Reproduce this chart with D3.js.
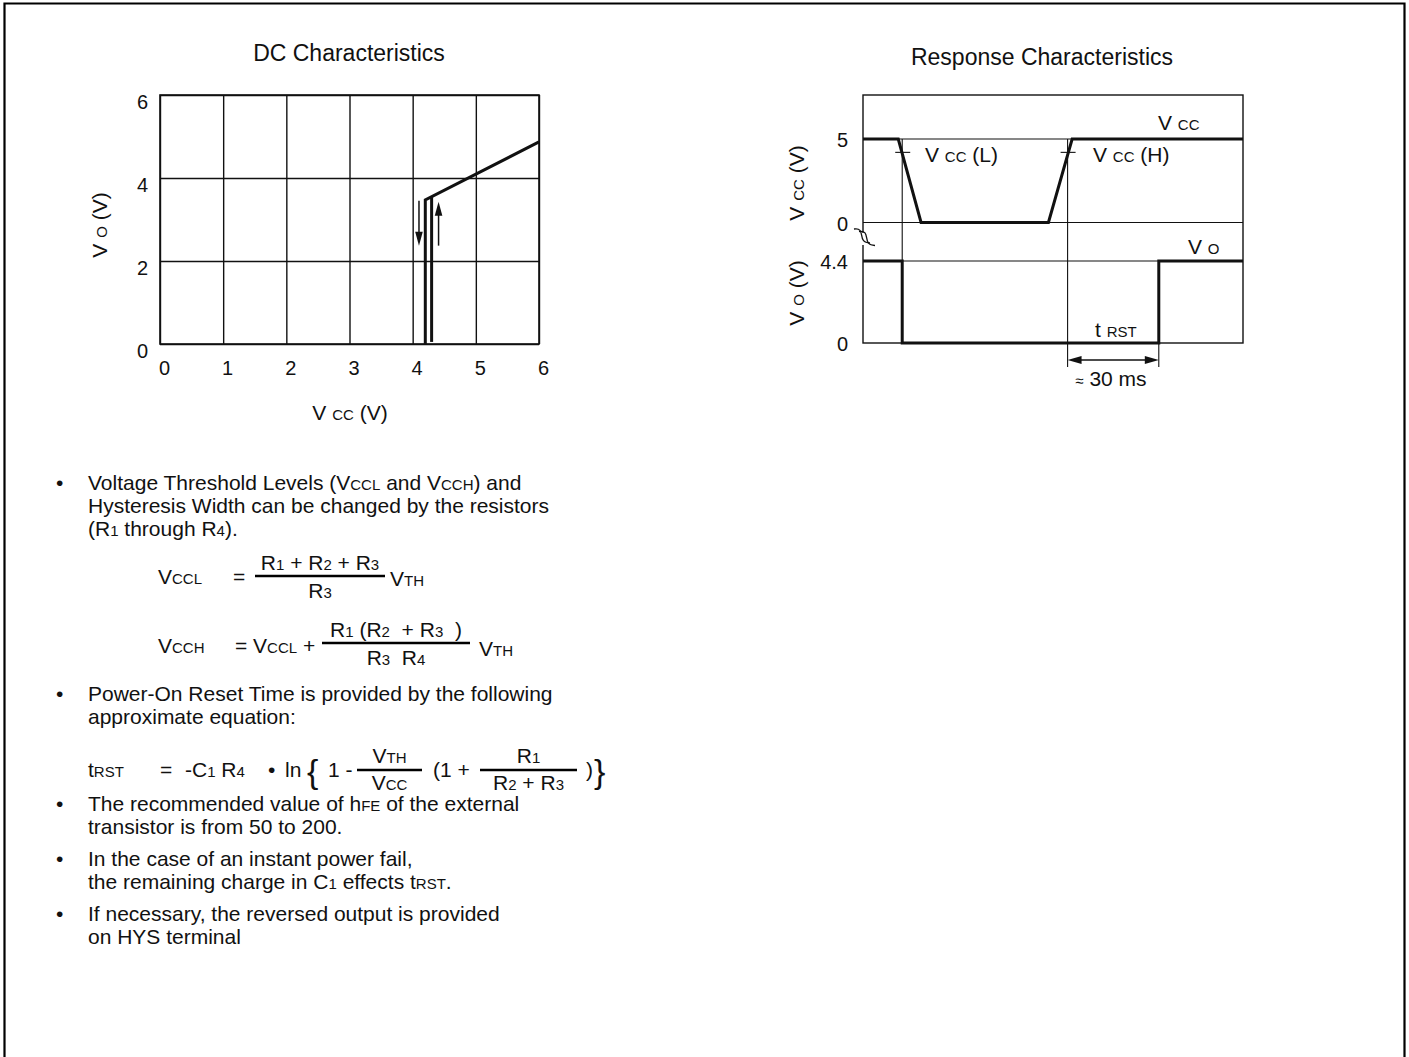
<!DOCTYPE html>
<html>
<head>
<meta charset="utf-8">
<script src="https://cdn.jsdelivr.net/npm/d3@7"></script>
<style>
  body { margin: 0; background: #fff; }
  svg { font-family: Arial, "Liberation Sans", Helvetica, sans-serif; }
  text { white-space: pre; fill: #111; }
</style>
</head>
<body>
<svg id="page" width="1409" height="1057"></svg>
<script>
// ---- DC characteristics (Vo versus Vcc, with hysteresis) ----
const dcTicksX = [0, 1, 2, 3, 4, 5, 6];
const dcTicksY = [0, 2, 4, 6];
// output while Vcc falls: vertical drop at Vccl, then the linear output region
const dcFalling = [[4.2, 0], [4.2, 3.47], [6, 4.87]];
// output while Vcc rises: vertical jump at Vcch
const dcRising = [[4.3, 0.05], [4.3, 3.55]];
// direction arrows beside the hysteresis loop
const dcArrowDown = [[4.1, 3.45], [4.1, 2.37]];
const dcArrowUp = [[4.41, 2.37], [4.41, 3.43]];

// ---- Response characteristics (time in ms) ----
const respTime = [0, 11.6, 19.1, 61.0, 68.8, 125];
const respVcc = [5, 5, 0, 0, 5, 5];
const tVccL = 12.9;          // Vcc crosses Vcc(L) while falling
const tVccH = 67.3;          // Vcc crosses Vcc(H) while rising
const tRst = 30;             // reset delay, ~30 ms
const vccMark = 4.2;         // threshold tick level on the Vcc trace
const respVoTime = [0, tVccL, tVccL, tVccH + tRst, tVccH + tRst, 125];
const respVo = [4.4, 4.4, 0, 0, 4.4, 4.4];
const vccTicks = [0, 5];
const voTicks = [0, 4.4];

// ---- notes ----
const notes = [
  ["Voltage Threshold Levels (V{CCL} and V{CCH}) and",
   "Hysteresis Width can be changed by the resistors",
   "(R{1} through R{4})."],
  ["Power-On Reset Time is provided by the following",
   "approximate equation:"],
  ["The recommended value of h{FE} of the external",
   "transistor is from 50 to 200."],
  ["In the case of an instant power fail,",
   "the remaining charge in C{1} effects t{RST}."],
  ["If necessary, the reversed output is provided",
   "on HYS terminal"]
];
const noteBaselines = [490, 701, 811, 866, 921];

const svg = d3.select("#page");
const INK = "#111";

// text with smaller runs written inside {braces}
function rich(parent, x, y, spec, opts = {}) {
  const size = opts.size || 21, small = opts.small || 15;
  const t = parent.append("text")
    .attr("x", x).attr("y", y)
    .attr("font-size", size)
    .attr("text-anchor", opts.anchor || "start");
  spec.split(/(\{[^}]*\})/).filter(s => s.length).forEach(s => {
    if (s[0] === "{") t.append("tspan").attr("font-size", small).text(s.slice(1, -1));
    else t.append("tspan").text(s);
  });
  if (opts.transform) t.attr("transform", opts.transform);
  return t;
}

function arrowHead(parent, x, y, dir, len = 13, half = 4) {
  // dir: unit vector [dx, dy] the arrow points toward; (x,y) is the tip
  const [dx, dy] = dir, px = -dy, py = dx;
  const bx = x - dx * len, by = y - dy * len;
  parent.append("path")
    .attr("d", `M${x},${y}L${bx + px * half},${by + py * half}L${bx - px * half},${by - py * half}Z`)
    .attr("fill", INK);
}

// page frame
svg.append("path")
  .attr("d", "M4.5,1057V3.5H1404.5V1057")
  .attr("fill", "none").attr("stroke", "#000").attr("stroke-width", 2.2);

// ================= DC characteristics =================
{
  const x = d3.scaleLinear().domain([0, 6]).range([160, 539]);
  const y = d3.scaleLinear().domain([0, 6]).range([344, 95]);
  const g = svg.append("g");

  g.append("text").attr("x", 349).attr("y", 61).attr("text-anchor", "middle")
    .attr("font-size", 23).text("DC Characteristics");

  // vertical grid + x tick labels
  g.append("g").attr("transform", `translate(0,${y(0)})`)
    .call(d3.axisBottom(x).tickValues(dcTicksX).tickSize(-(y(0) - y(6))).tickFormat(d => d))
    .call(a => {
      a.select(".domain").remove();
      a.selectAll("line").attr("stroke", INK).attr("stroke-width", 1.4);
      a.selectAll("text").attr("y", 31).attr("dy", 0).attr("dx", 4)
        .attr("font-size", 20).attr("font-family", null).attr("fill", INK);
    });

  // horizontal grid + y tick labels
  g.append("g").attr("transform", `translate(${x(0)},0)`)
    .call(d3.axisLeft(y).tickValues(dcTicksY).tickSize(-(x(6) - x(0))).tickFormat(d => d))
    .call(a => {
      a.select(".domain").remove();
      a.selectAll("line").attr("stroke", INK).attr("stroke-width", 1.4);
      a.selectAll("text").attr("x", -12).attr("dy", 13)
        .attr("font-size", 20).attr("font-family", null).attr("fill", INK);
    });

  g.append("rect").attr("x", x(0)).attr("y", y(6))
    .attr("width", x(6) - x(0)).attr("height", y(0) - y(6))
    .attr("fill", "none").attr("stroke", INK).attr("stroke-width", 1.6);

  const line = d3.line().x(d => x(d[0])).y(d => y(d[1]));
  g.append("path").attr("d", line(dcFalling)).attr("fill", "none")
    .attr("stroke", INK).attr("stroke-width", 3);
  g.append("path").attr("d", line(dcRising)).attr("fill", "none")
    .attr("stroke", INK).attr("stroke-width", 3);

  // hysteresis direction arrows
  [dcArrowDown, dcArrowUp].forEach(seg => {
    const [p0, p1] = seg;
    const x0 = x(p0[0]), y0 = y(p0[1]), x1 = x(p1[0]), y1 = y(p1[1]);
    const dir = y1 > y0 ? [0, 1] : [0, -1];
    g.append("line").attr("x1", x0).attr("y1", y0).attr("x2", x1).attr("y2", y1 - dir[1] * 10)
      .attr("stroke", INK).attr("stroke-width", 1.5);
    arrowHead(g, x1, y1, dir, 14, 3.8);
  });

  rich(g, 0, 0, "V {O} (V)", { anchor: "middle", transform: "translate(107,225) rotate(-90)" });
  rich(g, 350, 420, "V {CC} (V)", { anchor: "middle" });
}

// ================= Response characteristics =================
{
  const tx = d3.scaleLinear().domain([0, 125]).range([863, 1243]);
  const yVcc = d3.scaleLinear().domain([0, 5]).range([222.5, 139]);
  const yVo = d3.scaleLinear().domain([0, 4.4]).range([343, 261]);
  const top = 95, bottom = yVo(0), left = tx(0), right = tx(125);
  const g = svg.append("g");

  g.append("text").attr("x", 1042).attr("y", 65).attr("text-anchor", "middle")
    .attr("font-size", 23).text("Response Characteristics");

  // thin reference lines
  const thin = (x1, y1, x2, y2) => g.append("line")
    .attr("x1", x1).attr("y1", y1).attr("x2", x2).attr("y2", y2)
    .attr("stroke", INK).attr("stroke-width", 1.1);
  thin(left, yVcc(5), right, yVcc(5));
  thin(left, yVcc(0), right, yVcc(0));
  thin(left, yVo(4.4), right, yVo(4.4));
  thin(tx(tVccL), yVcc(5), tx(tVccL), bottom);
  thin(tx(tVccH), yVcc(5), tx(tVccH), bottom + 24);
  thin(tx(tVccH + tRst), bottom, tx(tVccH + tRst), bottom + 24);

  // frame
  g.append("rect").attr("x", left).attr("y", top)
    .attr("width", right - left).attr("height", bottom - top)
    .attr("fill", "none").attr("stroke", INK).attr("stroke-width", 1.4);

  // axis break on the left edge
  g.append("rect").attr("x", left - 3).attr("y", 233).attr("width", 6).attr("height", 12).attr("fill", "#fff");
  [0, 5].forEach(d => {
    g.append("path")
      .attr("d", `M${left - 9 + d},${229 + d * 0.5} C${left + 4 + d},${227 + d * 0.5} ${left - 7 + d},${243 + d * 0.5} ${left + 7 + d},${243 + d * 0.5}`)
      .attr("fill", "none").attr("stroke", INK).attr("stroke-width", 1.3);
  });

  // tick labels
  vccTicks.forEach(v => g.append("text").attr("x", 848).attr("y", yVcc(v) + 8)
    .attr("text-anchor", "end").attr("font-size", 20).text(v));
  voTicks.forEach(v => g.append("text").attr("x", 848).attr("y", yVo(v) + 8)
    .attr("text-anchor", "end").attr("font-size", 20).text(v));

  // traces
  const vccLine = d3.line().x((d, i) => tx(respTime[i])).y(d => yVcc(d));
  g.append("path").attr("d", vccLine(respVcc)).attr("fill", "none")
    .attr("stroke", INK).attr("stroke-width", 3).attr("stroke-linejoin", "miter");
  const voLine = d3.line().x((d, i) => tx(respVoTime[i])).y(d => yVo(d));
  g.append("path").attr("d", voLine(respVo)).attr("fill", "none")
    .attr("stroke", INK).attr("stroke-width", 3).attr("stroke-linejoin", "miter");

  // threshold ticks
  [tVccL, tVccH].forEach(t => thin(tx(t) - 7, yVcc(vccMark), tx(t) + 8, yVcc(vccMark)));

  // reset-time dimension
  const yd = bottom + 17;
  thin(tx(tVccH) + 8, yd, tx(tVccH + tRst) - 8, yd).attr("stroke-width", 1.6);
  arrowHead(g, tx(tVccH), yd, [-1, 0], 14, 4);
  arrowHead(g, tx(tVccH + tRst), yd, [1, 0], 14, 4);

  // labels
  rich(g, 1158, 130, "V {CC}");
  rich(g, 925, 162, "V {CC} (L)");
  rich(g, 1093, 162, "V {CC} (H)");
  rich(g, 1188, 254, "V {O}");
  rich(g, 1095, 337, "t {RST}");
  rich(g, 1111, 386, "{≈} 30 ms", { anchor: "middle" });
  rich(g, 0, 0, "V {CC} (V)", { anchor: "middle", transform: "translate(804,183) rotate(-90)" });
  rich(g, 0, 0, "V {O} (V)", { anchor: "middle", transform: "translate(804,293) rotate(-90)" });
}

// ================= Notes and formulas =================
{
  const g = svg.append("g");
  notes.forEach((lines, i) => {
    g.append("text").attr("x", 56).attr("y", noteBaselines[i]).attr("font-size", 21).text("•");
    lines.forEach((s, j) => rich(g, 88, noteBaselines[i] + j * 23, s));
  });

  function fraction(x0, x1, yLine, num, den, gapUp = 6, gapDown = 22) {
    g.append("line").attr("x1", x0).attr("x2", x1).attr("y1", yLine).attr("y2", yLine)
      .attr("stroke", "#000").attr("stroke-width", 2.6);
    const cx = (x0 + x1) / 2;
    rich(g, cx, yLine - gapUp, num, { anchor: "middle" });
    rich(g, cx, yLine + gapDown, den, { anchor: "middle" });
  }

  // Vccl
  rich(g, 158, 584, "V{CCL}");
  rich(g, 233, 584, "=");
  fraction(255, 385, 576, "R{1} + R{2} + R{3}", "R{3}");
  rich(g, 390, 586, "V{TH}");

  // Vcch
  rich(g, 158, 653, "V{CCH}");
  rich(g, 235, 653, "= V{CCL} +");
  fraction(322, 470, 643, "R{1} (R{2}  + R{3}  )", "R{3}  R{4}");
  rich(g, 479, 656, "V{TH}");

  // reset time
  const yb = 777, yl = 770;
  rich(g, 88, yb, "t{RST}");
  rich(g, 160, yb, "=");
  rich(g, 185, yb, "-C{1} R{4}");
  rich(g, 268, yb, "•");
  rich(g, 285, yb, "ln");
  g.append("text").attr("x", 307).attr("y", yb + 6).attr("font-size", 34).text("{");
  rich(g, 328, yb, "1 -");
  fraction(357, 422, yl, "V{TH}", "V{CC}", 7, 20);
  rich(g, 433, yb, "(1 +");
  fraction(480, 577, yl, "R{1}", "R{2} + R{3}", 7, 20);
  rich(g, 586, yb, ")");
  g.append("text").attr("x", 594).attr("y", yb + 6).attr("font-size", 34).text("}");
}
</script>
</body>
</html>
